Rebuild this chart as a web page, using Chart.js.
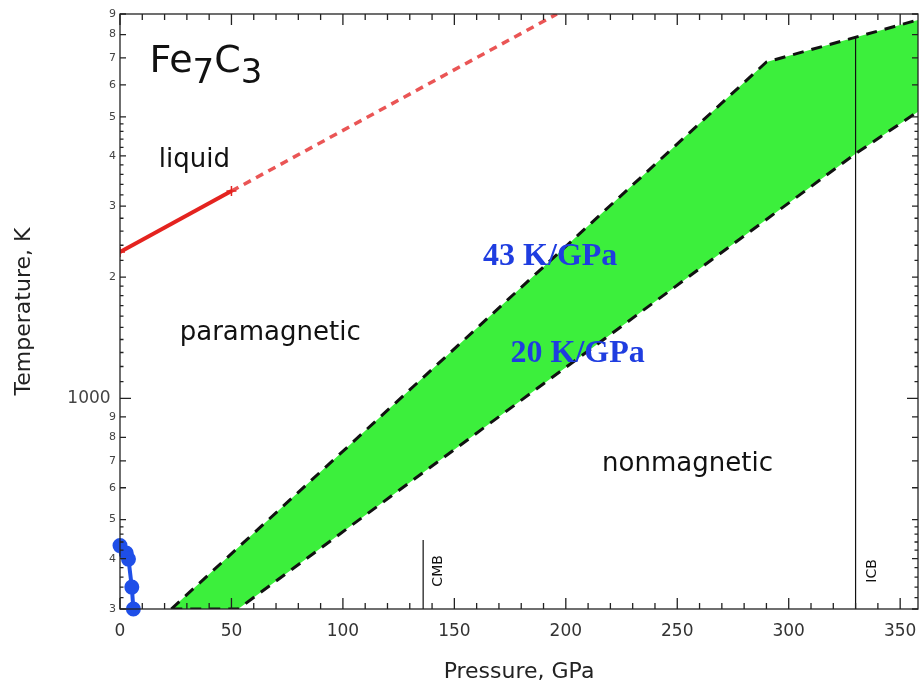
<!DOCTYPE html>
<html>
<head>
<meta charset="utf-8">
<script src="https://cdn.jsdelivr.net/npm/chart.js@4/dist/chart.umd.min.js"></script>
<style>
  html, body { margin: 0; padding: 0; background: #fff; }
  #wrap { width: 920px; height: 691px; position: relative; }
</style>
</head>
<body>
<div id="wrap"><canvas id="chart"></canvas></div>
<script>
// data (pressure in GPa, temperature in K)
const pressureMagnon = [0, 2.8, 3.8, 5.3, 6];
const tempMagnon = [431, 413, 399, 340, 300];

const pressureMelt = [0, 50];
const tempMelt = [2310, 3270];
const pressureMeltExtra = [50, 196];
const tempMeltExtra = [3270, 9000];

const pressureUpper = [23, 290, 358];
const tempUpper = [300, 6840, 8700];
const pressureLower = [23, 53, 330, 358];
const tempLower = [300, 300, 4050, 5150];

const pressureCMB = [136, 136];
const tempCMB = [300, 445];
const pressureICB = [330, 330];
const tempICB = [300, 7850];

const xTickValues = [0, 50, 100, 150, 200, 250, 300, 350];
const yTickValues = [300, 400, 500, 600, 700, 800, 900, 1000, 2000, 3000, 4000, 5000, 6000, 7000, 8000, 9000];
const yTickLabels = ['3', '4', '5', '6', '7', '8', '9', '1000 ', '2', '3', '4', '5', '6', '7', '8', '9'];

const regionNames = ['liquid', 'paramagnetic', 'nonmagnetic'];
const regionPressure = [33.4, 67.4, 254.6];
const regionTemp = [3756, 1395, 661];

const slopeNames = ['43 K/GPa', '20 K/GPa'];
const slopePressure = [193, 205.3];
const slopeTemp = [2142, 1233];

const zip = (xs, ys) => xs.map((x, i) => ({ x: x, y: ys[i] }));

const SANS = '"DejaVu Sans", sans-serif';

// frame + inward ticks on all four sides
const frameTicks = {
  id: 'frameTicks',
  afterDatasetsDraw(chart) {
    const { ctx, chartArea: a, scales: { x, y } } = chart;
    ctx.save();
    ctx.strokeStyle = '#222';
    ctx.lineWidth = 1.3;
    ctx.strokeRect(a.left, a.top, a.right - a.left, a.bottom - a.top);
    ctx.beginPath();
    for (let p = 0; p <= x.max; p += 10) {
      const px = x.getPixelForValue(p);
      const len = p % 50 === 0 ? 11 : 6;
      ctx.moveTo(px, a.bottom); ctx.lineTo(px, a.bottom - len);
      ctx.moveTo(px, a.top); ctx.lineTo(px, a.top + len);
    }
    yTickValues.forEach(v => {
      const py = y.getPixelForValue(v);
      const len = v === 1000 ? 11 : 6;
      ctx.moveTo(a.left, py); ctx.lineTo(a.left + len, py);
      ctx.moveTo(a.right, py); ctx.lineTo(a.right - len, py);
    });
    // minor ticks
    const minors = [];
    for (let k = 32; k < 50; k += 2) if (k % 10) minors.push(k * 10);
    for (let k = 11; k < 20; k++) minors.push(k * 100);
    for (let k = 22; k < 50; k += 2) if (k % 10) minors.push(k * 100);
    minors.forEach(v => {
      const py = y.getPixelForValue(v);
      ctx.moveTo(a.left, py); ctx.lineTo(a.left + 3.5, py);
      ctx.moveTo(a.right, py); ctx.lineTo(a.right - 3.5, py);
    });
    ctx.stroke();
    ctx.restore();
  }
};

// text labels placed through the scales
const labels = {
  id: 'labels',
  afterDatasetsDraw(chart) {
    const { ctx, scales: { x, y } } = chart;
    ctx.save();
    ctx.fillStyle = '#111';
    ctx.textBaseline = 'alphabetic';

    // Fe7C3 title
    let px = x.getPixelForValue(13.2);
    const py = y.getPixelForValue(6450);
    const parts = [['Fe', 38, 0], ['7', 34, 11], ['C', 38, 0], ['3', 34, 11]];
    ctx.textAlign = 'left';
    parts.forEach(([t, size, dy]) => {
      ctx.font = size + 'px ' + SANS;
      ctx.fillText(t, px, py + dy);
      px += ctx.measureText(t).width;
    });

    ctx.textAlign = 'center';
    ctx.font = '26px ' + SANS;
    regionNames.forEach((t, i) => {
      ctx.fillText(t, x.getPixelForValue(regionPressure[i]), y.getPixelForValue(regionTemp[i]));
    });

    ctx.fillStyle = '#1f3de0';
    ctx.font = 'bold 32px "Liberation Serif", serif';
    slopeNames.forEach((t, i) => {
      ctx.fillText(t, x.getPixelForValue(slopePressure[i]), y.getPixelForValue(slopeTemp[i]));
    });

    // boundary names, rotated
    ctx.fillStyle = '#111';
    ctx.font = '14px ' + SANS;
    ctx.textBaseline = 'middle';
    [['CMB', 142.8], ['ICB', 337.4]].forEach(([t, p]) => {
      ctx.save();
      ctx.translate(x.getPixelForValue(p), y.getPixelForValue(373));
      ctx.rotate(-Math.PI / 2);
      ctx.fillText(t, 0, 0);
      ctx.restore();
    });
    ctx.restore();
  }
};

new Chart(document.getElementById('chart'), {
  type: 'scatter',
  data: {
    datasets: [
      {
        data: zip(pressureMagnon, tempMagnon),
        showLine: true,
        borderColor: '#1f4fe8',
        backgroundColor: '#1f4fe8',
        borderWidth: 4,
        pointRadius: 5.5,
        clip: false,
        order: 1
      },
      {
        data: zip(pressureMelt, tempMelt),
        showLine: true,
        borderColor: '#e4231f',
        borderWidth: 4,
        pointStyle: 'cross',
        pointRadius: 5,
        pointBorderWidth: 1.5,
        order: 1
      },
      {
        data: zip(pressureMeltExtra, tempMeltExtra),
        showLine: true,
        borderColor: '#ea5555',
        borderWidth: 3.5,
        borderDash: [8, 6],
        pointRadius: 0,
        order: 2
      },
      {
        data: zip(pressureCMB, tempCMB),
        showLine: true,
        borderColor: '#111',
        borderWidth: 1.2,
        pointRadius: 0,
        order: 3
      },
      {
        data: zip(pressureICB, tempICB),
        showLine: true,
        borderColor: '#111',
        borderWidth: 1.2,
        pointRadius: 0,
        order: 3
      },
      {
        data: zip(pressureUpper, tempUpper),
        showLine: true,
        borderColor: '#111',
        borderWidth: 3,
        borderDash: [11, 8],
        backgroundColor: '#3cef3c',
        fill: '+1',
        pointRadius: 0,
        order: 5
      },
      {
        data: zip(pressureLower, tempLower),
        showLine: true,
        borderColor: '#111',
        borderWidth: 3,
        borderDash: [11, 8],
        pointRadius: 0,
        order: 4
      }
    ]
  },
  options: {
    responsive: true,
    maintainAspectRatio: false,
    animation: false,
    layout: { autoPadding: false, padding: { top: 14, right: 2, left: 0, bottom: 0 } },
    plugins: { legend: { display: false }, tooltip: { enabled: false } },
    scales: {
      x: {
        type: 'linear',
        min: 0,
        max: 358,
        grid: { display: false, drawTicks: false },
        border: { display: false },
        afterBuildTicks: s => { s.ticks = xTickValues.map(v => ({ value: v })); },
        afterFit: s => { s.height = 82; s.paddingLeft = 0; s.paddingRight = 0; },
        ticks: {
          padding: 12,
          color: '#333',
          font: { family: SANS, size: 17 },
          callback: v => String(v)
        },
        title: {
          display: true,
          text: 'Pressure, GPa',
          color: '#222',
          font: { family: SANS, size: 22 },
          padding: { bottom: 6 }
        }
      },
      y: {
        type: 'logarithmic',
        min: 300,
        max: 9000,
        grid: { display: false, drawTicks: false },
        border: { display: false },
        afterBuildTicks: s => { s.ticks = yTickValues.map(v => ({ value: v })); },
        afterFit: s => { s.width = 120; s.paddingTop = 0; s.paddingBottom = 0; },
        ticks: {
          padding: 4,
          color: '#444',
          autoSkip: false,
          font: ctx => ({ family: SANS, size: ctx.tick && ctx.tick.value === 1000 ? 17 : 11 }),
          callback: (v, i) => yTickLabels[i]
        },
        title: {
          display: true,
          text: 'Temperature, K',
          color: '#222',
          font: { family: SANS, size: 22 },
          padding: { top: 11 }
        }
      }
    }
  },
  plugins: [frameTicks, labels]
});
</script>
</body>
</html>
